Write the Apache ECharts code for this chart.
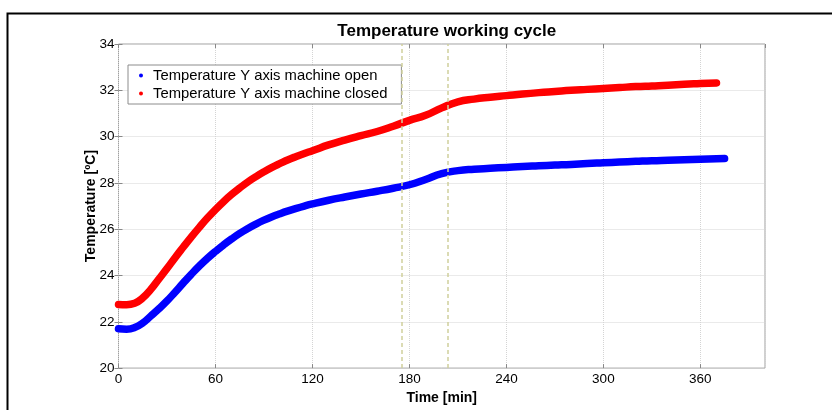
<!DOCTYPE html>
<html>
<head>
<meta charset="utf-8">
<script src="https://cdn.jsdelivr.net/npm/echarts@6/dist/echarts.min.js"></script>
<style>
html,body{margin:0;padding:0;background:#fff;}
#chart{width:832px;height:410px;}
</style>
</head>
<body>
<div id="chart"></div>
<script>
// Time in minutes
var timeOpen   = [0,5,10,15,20,25,30,35,40,45,50,55,60,65,70,75,80,85,90,95,100,105,110,115,120,130,140,150,160,170,180,190,200,210,220,230,240,250,260,270,280,290,300,310,320,330,340,350,360,370,375];
var tempOpen   = [21.7,21.68,21.75,21.95,22.25,22.56,22.9,23.28,23.67,24.05,24.41,24.74,25.04,25.32,25.58,25.82,26.03,26.22,26.39,26.54,26.67,26.79,26.9,27.0,27.09,27.25,27.39,27.52,27.64,27.77,27.92,28.15,28.4,28.53,28.59,28.63,28.67,28.71,28.74,28.77,28.8,28.84,28.87,28.9,28.93,28.96,28.98,29.0,29.02,29.04,29.05];
var timeClosed = [0,5,10,15,20,25,30,35,40,45,50,55,60,65,70,75,80,85,90,95,100,105,110,115,120,130,140,150,160,170,180,190,200,210,220,230,240,250,260,270,280,290,300,310,320,330,340,350,360,370];
var tempClosed = [22.75,22.74,22.8,23.03,23.4,23.85,24.3,24.77,25.22,25.66,26.08,26.48,26.85,27.19,27.5,27.78,28.04,28.27,28.48,28.67,28.84,29.0,29.14,29.27,29.39,29.64,29.85,30.04,30.22,30.45,30.7,30.92,31.24,31.5,31.62,31.7,31.77,31.84,31.9,31.95,32.0,32.04,32.08,32.12,32.16,32.19,32.22,32.26,32.29,32.32];
var phaseLines = [175.3, 204];
var seriesNames = ['Temperature Y axis machine open','Temperature Y axis machine closed'];
var chartTitle = 'Temperature working cycle';
var xName = 'Time [min]';
var yName = 'Temperature [ºC]';

function pairs(xs, ys){ return xs.map(function(x,i){ return [x, ys[i]]; }); }

var FONT = '"Liberation Sans", Arial, sans-serif';
var chart = echarts.init(document.getElementById('chart'), null, {renderer:'canvas'});
chart.setOption({
  animation:false,
  backgroundColor:'#fff',
  title:{
    text:chartTitle, left:441.75, top:18, textAlign:'center',
    textStyle:{fontFamily:FONT, fontSize:17, fontWeight:'bold', color:'#000'}
  },
  grid:{left:118.5, right:67, top:44, bottom:38.3, show:true, borderColor:'#a0a0a0', borderWidth:1, backgroundColor:'#fff'},
  legend:{
    left:128, top:65, orient:'vertical',
    data:seriesNames,
    backgroundColor:'#fff', borderColor:'#8c8c8c', borderWidth:1,
    padding:[3,14,3,11], itemGap:3,
    icon:'circle', itemWidth:4, itemHeight:4,
    textStyle:{fontFamily:FONT, fontSize:14.8, color:'#000', padding:[0,0,0,5]}
  },
  xAxis:[{
    type:'value', min:0, max:400, interval:60,
    name:xName, nameLocation:'middle', nameGap:21,
    nameTextStyle:{fontFamily:FONT, fontSize:14, fontWeight:'bold', color:'#000'},
    axisLine:{show:false},
    axisTick:{show:true, inside:true, length:4, lineStyle:{color:'#888'}},
    axisLabel:{fontFamily:FONT, fontSize:13.5, color:'#000', margin:4, showMaxLabel:false},
    splitLine:{show:true, lineStyle:{color:'#d4d4d4', type:'dotted', width:1}}
  },{
    type:'value', min:0, max:400, interval:60, position:'top',
    axisLine:{show:false}, axisLabel:{show:false}, splitLine:{show:false},
    axisTick:{show:true, inside:true, length:4, lineStyle:{color:'#888'}}
  }],
  yAxis:[{
    type:'value', min:20, max:34, interval:2,
    name:yName, nameLocation:'middle', nameGap:20, nameMoveOverlap:false,
    nameTextStyle:{fontFamily:FONT, fontSize:14, fontWeight:'bold', color:'#000'},
    axisLine:{show:false},
    axisTick:{show:true, inside:true, length:4, lineStyle:{color:'#888'}},
    axisLabel:{fontFamily:FONT, fontSize:13.5, color:'#000', margin:4},
    splitLine:{show:true, lineStyle:{color:'#d4d4d4', type:'dotted', width:1}}
  },{
    type:'value', min:20, max:34, interval:2, position:'right',
    axisLine:{show:false}, axisLabel:{show:false}, splitLine:{show:false},
    axisTick:{show:true, inside:true, length:4, lineStyle:{color:'#888'}}
  }],
  series:[{
    name:'phases', type:'line', data:[], silent:true, z:1,
    markLine:{
      silent:true, symbol:'none', label:{show:false},
      lineStyle:{color:'#cfcf9c', type:[4,3], width:1.5},
      data:phaseLines.map(function(t){ return {xAxis:t}; })
    }
  },{
    name:seriesNames[0], type:'line', smooth:0.5, showSymbol:false,
    color:'#0000ff',
    lineStyle:{width:7.5, color:'#0000ff', cap:'round', join:'round'},
    data:pairs(timeOpen, tempOpen),
    z:3
  },{
    name:seriesNames[1], type:'line', smooth:0.5, showSymbol:false,
    color:'#ff0000',
    lineStyle:{width:7.5, color:'#ff0000', cap:'round', join:'round'},
    data:pairs(timeClosed, tempClosed),
    z:3
  }],
  graphic:[{
    type:'polyline', silent:true,
    shape:{points:[[7.5,410],[7.5,13.5],[832,13.5]]},
    style:{stroke:'#000', lineWidth:2, fill:null}
  }]
});
</script>
</body>
</html>
